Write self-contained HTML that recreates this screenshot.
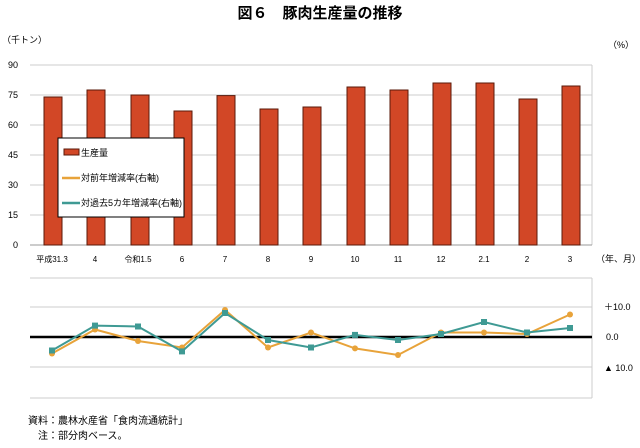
<!DOCTYPE html><html><head><meta charset="utf-8"><style>body{margin:0;background:#fff;width:640px;height:443px;overflow:hidden}</style></head><body>
<svg width="640" height="443" xmlns="http://www.w3.org/2000/svg" font-family="Liberation Sans, Noto Sans CJK JP, sans-serif">
<text x="320" y="18" text-anchor="middle" font-size="15" font-weight="bold">図６　豚肉生産量の推移</text>
<text x="2" y="43" font-size="9">（千トン）</text>
<text x="608" y="48" font-size="9">（%）</text>
<g stroke="#ccc" stroke-width="1">
<line x1="30" y1="65" x2="592" y2="65"/><line x1="30" y1="95" x2="592" y2="95"/><line x1="30" y1="125" x2="592" y2="125"/><line x1="30" y1="155" x2="592" y2="155"/><line x1="30" y1="185" x2="592" y2="185"/><line x1="30" y1="215" x2="592" y2="215"/>
<line x1="30" y1="278" x2="592" y2="278"/><line x1="30" y1="307" x2="592" y2="307"/><line x1="30" y1="367" x2="592" y2="367"/><line x1="30" y1="398" x2="592" y2="398"/>
<line x1="592" y1="65" x2="592" y2="245"/><line x1="592" y1="278" x2="592" y2="398"/>
</g>
<line x1="30" y1="245" x2="592" y2="245" stroke="#999"/>
<g font-size="9" text-anchor="end"><text x="18" y="68">90</text><text x="18" y="98">75</text><text x="18" y="128">60</text><text x="18" y="158">45</text><text x="18" y="188">30</text><text x="18" y="218">15</text><text x="18" y="248">0</text></g>
<g fill="#d24726" stroke="#5a1a0a" stroke-width="1">
<rect x="44" y="97" width="18" height="148"/><rect x="87" y="90" width="18" height="155"/><rect x="131" y="95" width="18" height="150"/><rect x="174" y="111" width="18" height="134"/><rect x="217" y="95.6" width="18" height="149.4"/><rect x="260" y="109" width="18" height="136"/><rect x="303" y="107" width="18" height="138"/><rect x="347" y="87" width="18" height="158"/><rect x="390" y="90" width="18" height="155"/><rect x="433" y="83" width="18" height="162"/><rect x="476" y="83" width="18" height="162"/><rect x="519" y="99" width="18" height="146"/><rect x="562" y="86" width="18" height="159"/>
</g>
<g font-size="8" text-anchor="middle"><text x="52" y="262">平成31.3</text><text x="95" y="262">4</text><text x="138" y="262">令和1.5</text><text x="182" y="262">6</text><text x="225" y="262">7</text><text x="268" y="262">8</text><text x="311" y="262">9</text><text x="355" y="262">10</text><text x="398" y="262">11</text><text x="441" y="262">12</text><text x="484" y="262">2.1</text><text x="527" y="262">2</text><text x="570" y="262">3</text></g>
<text x="596" y="262" font-size="9">（年、月）</text>
<rect x="58" y="138" width="126" height="79" fill="#fff" stroke="#000"/>
<rect x="64" y="149" width="15" height="6" fill="#d24726" stroke="#5a1a0a"/><text x="81" y="156" font-size="9">生産量</text>
<line x1="62" y1="178" x2="80" y2="178" stroke="#e8a33a" stroke-width="2.5"/><text x="81" y="181" font-size="9">対前年増減率(右軸)</text>
<line x1="62" y1="203" x2="80" y2="203" stroke="#3f9a94" stroke-width="2.5"/><text x="81" y="206" font-size="9">対過去5カ年増減率(右軸)</text>
<line x1="30" y1="337" x2="592" y2="337" stroke="#000" stroke-width="2.5"/>
<polyline fill="none" stroke="#e8a33a" stroke-width="2" points="52,353.5 95,329.5 138,341 182,347.5 225,310 268,347.5 311,332.5 355,348.4 398,355 441,332.5 484,332.5 527,334 570,314.5"/>
<g fill="#e8a33a"><circle cx="52" cy="353.5" r="3"/><circle cx="95" cy="329.5" r="3"/><circle cx="138" cy="341" r="3"/><circle cx="182" cy="347.5" r="3"/><circle cx="225" cy="310" r="3"/><circle cx="268" cy="347.5" r="3"/><circle cx="311" cy="332.5" r="3"/><circle cx="355" cy="348.4" r="3"/><circle cx="398" cy="355" r="3"/><circle cx="441" cy="332.5" r="3"/><circle cx="484" cy="332.5" r="3"/><circle cx="527" cy="334" r="3"/><circle cx="570" cy="314.5" r="3"/></g>
<polyline fill="none" stroke="#3f9a94" stroke-width="2" points="52,350.5 95,325.6 138,326.5 182,351.4 225,313 268,340 311,347.5 355,334.9 398,340 441,334 484,322 527,332.5 570,328"/>
<g fill="#3f9a94"><rect x="49" y="347.5" width="6" height="6"/><rect x="92" y="322.6" width="6" height="6"/><rect x="135" y="323.5" width="6" height="6"/><rect x="179" y="348.4" width="6" height="6"/><rect x="222" y="310" width="6" height="6"/><rect x="265" y="337" width="6" height="6"/><rect x="308" y="344.5" width="6" height="6"/><rect x="352" y="331.9" width="6" height="6"/><rect x="395" y="337" width="6" height="6"/><rect x="438" y="331" width="6" height="6"/><rect x="481" y="319" width="6" height="6"/><rect x="524" y="329.5" width="6" height="6"/><rect x="567" y="325" width="6" height="6"/></g>
<g font-size="9"><text x="604" y="310">＋10.0</text><text x="606" y="340">0.0</text><text x="604" y="371">▲ 10.0</text></g>
<text x="28" y="424" font-size="10">資料：農林水産省「食肉流通統計」</text>
<text x="38" y="439" font-size="10">注：部分肉ベース。</text>
</svg></body></html>
